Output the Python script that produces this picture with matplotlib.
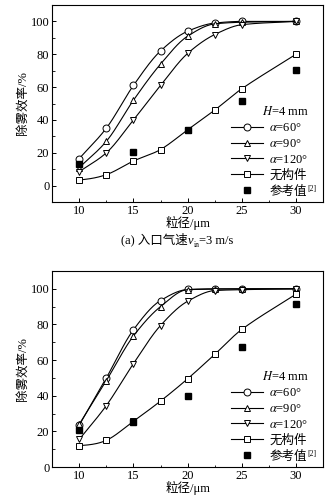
import numpy as np
import matplotlib.pyplot as plt
from matplotlib.ticker import MultipleLocator
from matplotlib.transforms import offset_copy

plt.rcParams['font.family'] = ['Liberation Serif', 'Noto Sans CJK SC']
plt.rcParams['mathtext.fontset'] = 'stix'

# particle size (um)
size = [10, 12.5, 15, 17.5, 20, 22.5, 25, 30]
ref_size = [10, 15, 20, 25, 30]

# (a) inlet velocity 3 m/s
a_60 = [16.5, 35, 61, 82, 94, 99, 100, 100]
a_90 = [11, 27, 52, 74, 91, 98.5, 99.5, 100]
a_120 = [8.5, 20, 40, 61, 80.5, 92, 98, 100]
a_none = [3.5, 6.7, 15, 22, 34, 46, 59, 80]
a_ref = [13, 20.3, 34, 51.5, 70.3]

# (b)
b_60 = [23.5, 50, 77, 93.4, 99.6, 100, 100, 100]
b_90 = [24, 48.5, 73.5, 90, 99.5, 99.8, 100, 100]
b_120 = [15.5, 34.5, 58, 79.4, 93, 99, 99.5, 100]
b_none = [12, 15, 25.7, 37, 49.5, 63.2, 77.2, 97]
b_ref = [21, 25.5, 40, 67.3, 91.2]

FS = 9


def hermite(x, y, m, n=200):
    h = np.diff(x)
    xs = np.linspace(x[0], x[-1], n)
    idx = np.clip(np.searchsorted(x, xs) - 1, 0, len(x) - 2)
    t = (xs - x[idx]) / h[idx]
    h00 = 2 * t**3 - 3 * t**2 + 1
    h10 = t**3 - 2 * t**2 + t
    h01 = -2 * t**3 + 3 * t**2
    h11 = t**3 - t**2
    ys = (h00 * y[idx] + h10 * h[idx] * m[idx]
          + h01 * y[idx + 1] + h11 * h[idx] * m[idx + 1])
    return xs, ys


def pchip(x, y):
    # monotone cubic curve through the points
    x = np.asarray(x, float)
    y = np.asarray(y, float)
    h = np.diff(x)
    d = np.diff(y) / h
    m = np.zeros_like(y)
    for k in range(1, len(x) - 1):
        if d[k - 1] * d[k] > 0:
            w1 = 2 * h[k] + h[k - 1]
            w2 = h[k] + 2 * h[k - 1]
            m[k] = (w1 + w2) / (w1 / d[k - 1] + w2 / d[k])
    m[0] = d[0]
    m[-1] = d[-1]
    return hermite(x, y, m)


def cardinal(x, y):
    # slopes from centred differences, softer start
    x = np.asarray(x, float)
    y = np.asarray(y, float)
    d = np.diff(y) / np.diff(x)
    m = np.zeros_like(y)
    m[1:-1] = (y[2:] - y[:-2]) / (x[2:] - x[:-2])
    m[0] = 0.4 * d[0]
    m[-1] = d[-1]
    return hermite(x, y, m)


def draw(ax, s60, s90, s120, snone, sref, ylim):
    series = [(s60, 'o', r'$\alpha$=60°', pchip),
              (s90, '^', r'$\alpha$=90°', pchip),
              (s120, 'v', r'$\alpha$=120°', pchip),
              (snone, 's', '无构件', cardinal)]
    handles = []
    for vals, mk, lab, fit in series:
        xs, ys = fit(size, vals)
        ax.plot(xs, ys, color='black', lw=0.8)
        ax.plot(size, vals, ls='none', marker=mk, mfc='white', mec='black',
                ms=5, mew=0.7)
        h, = ax.plot([], [], color='black', lw=0.8, marker=mk, mfc='white',
                     mec='black', ms=5, mew=0.7, label=lab)
        handles.append(h)
    h, = ax.plot(ref_size, sref, ls='none', marker='s', color='black', ms=4.5,
                 label='参考值')
    handles.append(h)
    ax.set_xlim(7.5, 32.5)
    ax.set_ylim(*ylim)
    ax.set_xticks([10, 15, 20, 25, 30])
    ax.xaxis.set_minor_locator(MultipleLocator(2.5))
    ax.set_yticks([0, 20, 40, 60, 80, 100])
    ax.yaxis.set_minor_locator(MultipleLocator(10))
    ax.tick_params(direction='in', labelsize=FS, length=3, width=0.7, pad=2)
    ax.tick_params(which='minor', direction='in', length=1.8, width=0.6)
    for sp in ax.spines.values():
        sp.set_linewidth(0.8)
    ax.set_xlabel('粒径/μm', fontsize=FS, labelpad=-1)
    ax.set_ylabel('除雾效率/%', fontsize=FS, labelpad=1)
    leg = ax.legend(handles=handles, loc='lower right',
                    bbox_to_anchor=(0.955, 0.01), frameon=False,
                    fontsize=FS, title='$H$=4 mm', title_fontsize=FS,
                    handlelength=2.6, handletextpad=0.5, labelspacing=0.3,
                    borderaxespad=0, borderpad=0.2)
    leg._legend_box.align = 'right'
    return leg


fig = plt.figure(figsize=(3.3, 4.99), dpi=100)
ax1 = fig.add_axes([0.158, 0.595, 0.821, 0.395])
ax2 = fig.add_axes([0.158, 0.064, 0.821, 0.393])

legs = [draw(ax1, a_60, a_90, a_120, a_none, a_ref, (-10, 110)),
        draw(ax2, b_60, b_90, b_120, b_none, b_ref, (0, 110))]

fig.canvas.draw()
renderer = fig.canvas.get_renderer()

# citation mark after the last legend entry
for leg in legs:
    bb = leg.get_texts()[-1].get_window_extent(renderer)
    x, y = fig.transFigure.inverted().transform((bb.x1, bb.y1))
    fig.text(x + 0.003, y + 0.002, '[2]', fontsize=5.5, ha='left', va='top')

# caption: (a) 入口气速 v_in = 3 m/s, written piece by piece
pieces = [('(a) 入口气速', FS, 0, 'normal'),
          ('v', FS, 0, 'italic'),
          ('in', 5.5, -2.5, 'normal'),
          ('=3 m/s', FS, 0, 'normal')]
objs = []
for s, fs, dy, st in pieces:
    t = fig.text(0, 0.512, s, fontsize=fs, style=st, va='baseline')
    objs.append((t, dy))
fig.canvas.draw()
widths = [t.get_window_extent(renderer).width for t, _ in objs]
x0 = 0.538 * fig.bbox.width - sum(widths) / 2
for (t, dy), w in zip(objs, widths):
    t.set_transform(offset_copy(fig.transFigure, fig=fig, x=0, y=dy, units='points'))
    t.set_x(x0 / fig.bbox.width)
    x0 += w

fig.savefig('out.png', dpi=100)
